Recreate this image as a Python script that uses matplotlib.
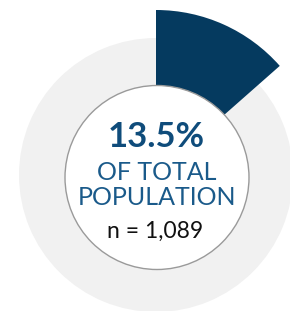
import matplotlib
matplotlib.use("Agg")
import matplotlib.pyplot as plt
from matplotlib.patches import Circle

# Data
share_pct = 13.5
rest_pct = 100 - share_pct
big_label = "13.5%"
sub_label_1 = "OF TOTAL"
sub_label_2 = "POPULATION"
n_label = "n = 1,089"

W, H = 290, 311
fig = plt.figure(figsize=(W / 100, H / 100), dpi=100)
ax = fig.add_axes([0, 0, 1, 1])

cx, cy = 156, H - 175

# background gray ring
ax.pie([100], radius=137, center=(cx, cy), colors=["#f1f1f1"],
       wedgeprops=dict(width=137 - 85, linewidth=0), startangle=90)

# highlighted wedge
wedges, _ = ax.pie([share_pct, rest_pct], radius=165, center=(cx, cy),
                   colors=["#053a5f", "none"], startangle=90, counterclock=False,
                   wedgeprops=dict(width=165 - 85, linewidth=0))

# white center circle
ax.add_patch(Circle((157, H - 177.5), 92, facecolor="white", edgecolor="#9a9a9a",
                    linewidth=1.0, zorder=5))

ax.set_xlim(0, W)
ax.set_ylim(0, H)
ax.set_aspect("equal")
ax.axis("off")

ax.text(156, H - 147, big_label, ha="center", va="baseline", fontsize=25,
        fontweight="bold", family="Lato", color="#0f4c7b", zorder=6)
ax.text(157, H - 180, sub_label_1, ha="center", va="baseline", fontsize=18,
        family="Lato", color="#1a5a8a", zorder=6)
ax.text(157, H - 205, sub_label_2, ha="center", va="baseline", fontsize=18,
        family="Lato", color="#1a5a8a", zorder=6)
ax.text(155, H - 238, n_label, ha="center", va="baseline", fontsize=16.5,
        family="Lato", color="#111111", zorder=6)

fig.savefig("out.png", dpi=100, facecolor="white")
